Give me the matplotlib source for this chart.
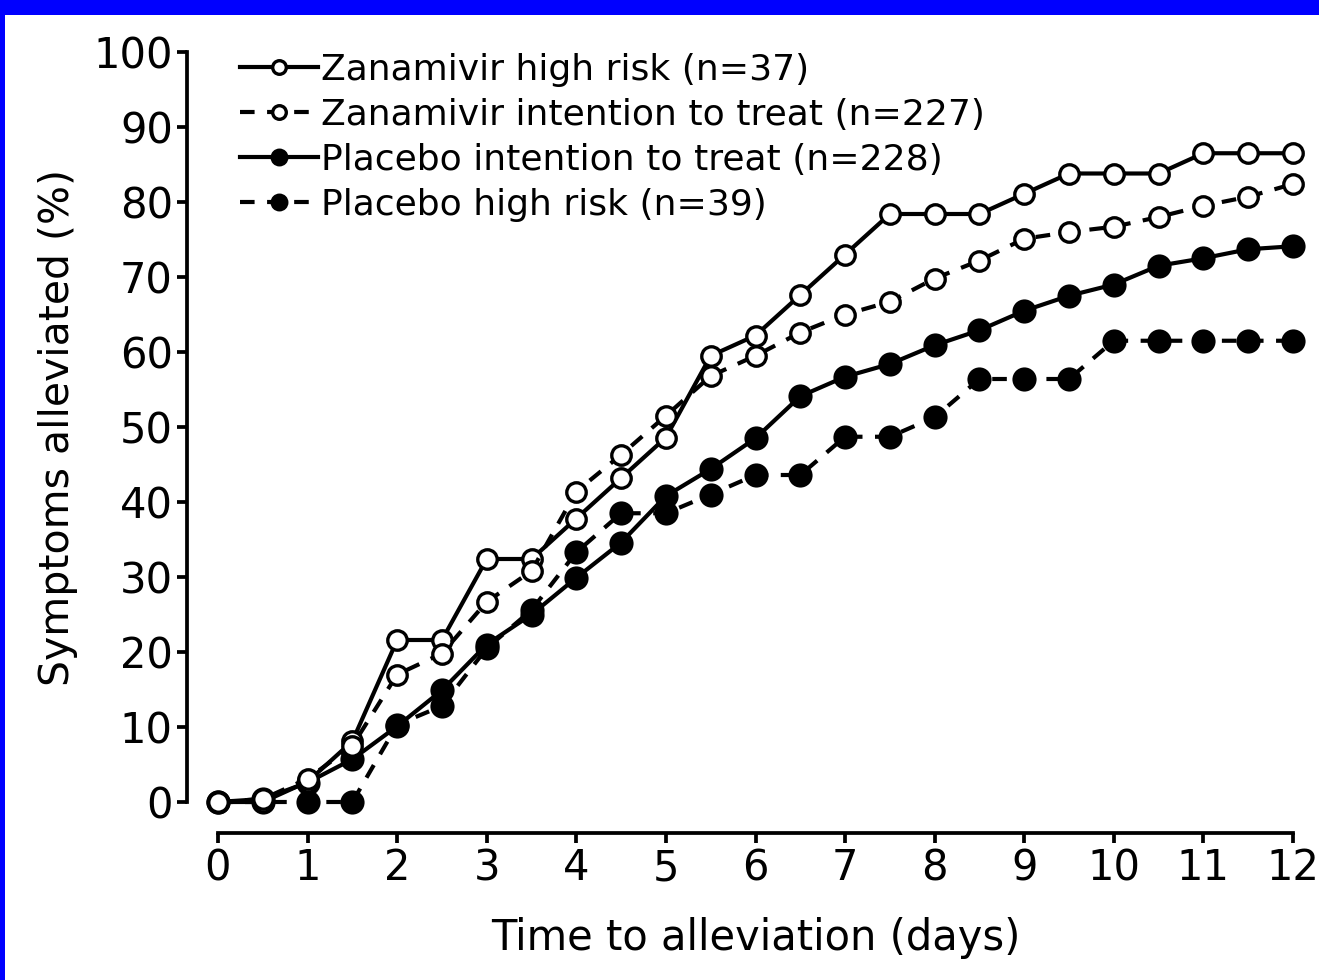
import matplotlib
matplotlib.use('Agg')
import matplotlib.pyplot as plt
from matplotlib.patches import Rectangle

# ---- data ----
days = [0, 0.5, 1, 1.5, 2, 2.5, 3, 3.5, 4, 4.5, 5, 5.5, 6, 6.5, 7, 7.5, 8,
        8.5, 9, 9.5, 10, 10.5, 11, 11.5, 12]
zan_high = [0, 0, 2.7, 8.1, 21.6, 21.6, 32.4, 32.4, 37.8, 43.2, 48.6, 59.5, 62.2,
            67.6, 73.0, 78.4, 78.4, 78.4, 81.1, 83.8, 83.8, 83.8, 86.5, 86.5, 86.5]
zan_itt = [0, 0.4, 3.1, 7.5, 17.0, 19.8, 26.7, 30.8, 41.4, 46.3, 51.5, 56.8, 59.5,
           62.6, 65.0, 66.7, 69.8, 72.2, 75.1, 76.0, 76.7, 78.0, 79.5, 80.7, 82.4]
pla_itt = [0, 0.4, 2.6, 5.7, 10.1, 14.9, 21.0, 25.0, 29.9, 34.6, 40.8, 44.4, 48.5,
           54.1, 56.7, 58.4, 60.9, 62.9, 65.5, 67.5, 69.0, 71.5, 72.5, 73.7, 74.1]
pla_high = [0, 0, 0, 0, 10.3, 12.8, 20.5, 25.6, 33.3, 38.5, 38.5, 41.0, 43.6,
            43.6, 48.7, 48.7, 51.3, 56.4, 56.4, 56.4, 61.5, 61.5, 61.5, 61.5, 61.5]
labels = ["Zanamivir high risk (n=37)",
          "Zanamivir intention to treat (n=227)",
          "Placebo intention to treat (n=228)",
          "Placebo high risk (n=39)"]
xticks = [0, 1, 2, 3, 4, 5, 6, 7, 8, 9, 10, 11, 12]
yticks = [0, 10, 20, 30, 40, 50, 60, 70, 80, 90, 100]
xlabel = "Time to alleviation (days)"
ylabel = "Symptoms alleviated (%)"

plt.rcParams['font.family'] = ['DejaVu Sans']

W, H = 1319, 980
fig = plt.figure(figsize=(W / 100, H / 100), dpi=100, facecolor='#0000FF')
fig.patches.append(Rectangle((5 / W, 0), 1, 1 - 15 / H, transform=fig.transFigure,
                             facecolor='white', edgecolor='none', zorder=-10))

ax = fig.add_axes([218 / W, 1 - 802 / H, (1293 - 218) / W, (802 - 52) / H])
ax.set_zorder(5)
ax.patch.set_visible(False)
ax.set_xlim(0, 12)
ax.set_ylim(0, 100)

lw = 3.0
ms = 14
mew = 2.4
dash = (0, (3.5, 3.0))

h1, = ax.plot(days, zan_high, color='black', lw=lw, ls='-', marker='o', ms=ms,
              mfc='white', mec='black', mew=mew, clip_on=False, label=labels[0], zorder=3)
h2, = ax.plot(days, zan_itt, color='black', lw=lw, ls=dash, marker='o', ms=ms,
              mfc='white', mec='black', mew=mew, clip_on=False, label=labels[1], zorder=3)
h3, = ax.plot(days, pla_itt, color='black', lw=lw, ls='-', marker='o', ms=ms + 1,
              mfc='black', mec='black', mew=mew, clip_on=False, label=labels[2], zorder=2)
h4, = ax.plot(days, pla_high, color='black', lw=lw, ls=dash, marker='o', ms=ms + 1,
              mfc='black', mec='black', mew=mew, clip_on=False, label=labels[3], zorder=2)

for s in ['top', 'right']:
    ax.spines[s].set_visible(False)
for s in ['left', 'bottom']:
    ax.spines[s].set_position(('outward', 22))
    ax.spines[s].set_linewidth(2.7)

ax.set_xticks(xticks)
ax.set_yticks(yticks)
ax.tick_params(axis='both', direction='out', length=7.5, width=2.7,
               labelsize=30, colors='black')
ax.tick_params(axis='x', pad=3)
ax.tick_params(axis='y', pad=3)

ax.set_xlabel(xlabel, fontsize=30, labelpad=20)
ax.set_ylabel(ylabel, fontsize=29.5, labelpad=11)

leg = ax.legend(handles=[h1, h2, h3, h4], loc='upper left',
                bbox_to_anchor=(240 / W, 1 - 53 / H), bbox_transform=fig.transFigure,
                frameon=False, fontsize=26, markerscale=0.7, handlelength=2.15,
                handletextpad=0.08, labelspacing=0.3, borderpad=0, borderaxespad=0)

fig.savefig('out.png', dpi=100, facecolor=fig.get_facecolor())
